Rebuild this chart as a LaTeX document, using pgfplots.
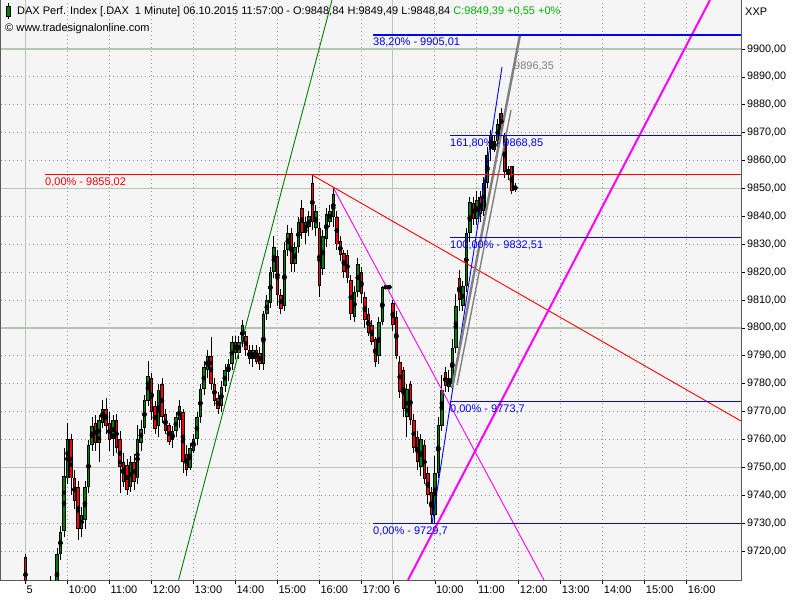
\documentclass[border=0pt]{standalone}
\usepackage{fontspec}
\setmainfont{Liberation Sans}
\usepackage{pgfplots}
\usepackage{pgfplotstable}
\pgfplotsset{compat=1.18}
\usetikzlibrary{backgrounds}
\definecolor{plotbg}{RGB}{245,245,245}
\definecolor{gridsolid}{RGB}{180,198,180}
\definecolor{griddot}{RGB}{150,150,150}
\definecolor{cgreen}{RGB}{0,128,0}
\definecolor{cred}{RGB}{255,0,0}
\definecolor{fibblue}{RGB}{0,0,255}
\definecolor{cmag}{RGB}{255,0,255}
\definecolor{titlegreen}{RGB}{0,180,0}
\definecolor{trendgrey}{RGB}{128,128,128}
\newcommand{\lab}{\fontsize{11}{13}\selectfont}
\newcommand{\tlab}{\fontsize{10.8}{13}\selectfont}

% minutes of trading time since 05.10.2015 09:00 (06.10. 09:00 = 525)
\pgfplotstableread{
m o h l c
0 9718 9719 9700 9705
5 9705 9708 9699 9702
10 9702 9706 9698 9704
15 9704 9707 9700 9701
20 9701 9705 9698 9703
25 9703 9706 9700 9702
30 9702 9707 9700 9705
35 9705 9711 9703 9706
40 9706 9708 9702 9704
45 9704 9721 9702 9719
50 9719 9729 9717 9727
55 9727 9757 9725 9747
60 9746 9766 9744 9760
65 9760 9762 9740 9746
70 9746 9749 9735 9738
75 9743 9745 9724 9728
80 9728 9736 9725 9733
85 9731 9745 9728 9743
90 9743 9760 9741 9758
95 9758 9768 9756 9765
100 9766 9769 9756 9759
105 9759 9769 9752 9767
110 9766 9774 9764 9771
115 9771 9775 9762 9765
120 9766 9770 9756 9760
125 9760 9769 9754 9767
130 9767 9769 9755 9757
135 9760 9763 9741 9750
140 9752 9755 9743 9745
145 9751 9753 9740 9742
150 9743 9754 9741 9752
155 9752 9755 9742 9745
160 9746 9765 9744 9760
165 9759 9767 9756 9764
170 9764 9776 9762 9774
175 9774 9788 9772 9783
180 9782 9784 9767 9770
185 9772 9774 9762 9764
190 9765 9780 9761 9778
195 9780 9782 9766 9768
200 9769 9771 9762 9763
205 9765 9766 9758 9759
210 9760 9765 9757 9763
215 9763 9770 9761 9768
220 9767 9774 9764 9772
225 9770 9771 9748 9752
230 9755 9758 9747 9749
235 9750 9759 9749 9757
240 9756 9762 9755 9760
245 9760 9770 9758 9768
250 9768 9780 9766 9778
255 9778 9788 9776 9786
260 9785 9792 9782 9790
265 9790 9797 9778 9780
270 9780 9782 9772 9774
275 9775 9777 9769 9771
280 9772 9781 9770 9779
285 9779 9787 9777 9785
290 9784 9789 9781 9787
295 9787 9797 9785 9795
300 9795 9797 9789 9791
305 9791 9797 9789 9795
310 9795 9803 9793 9801
315 9797 9799 9790 9792
320 9792 9794 9787 9789
325 9789 9794 9786 9792
330 9792 9794 9787 9788
335 9791 9793 9785 9787
340 9787 9806 9785 9805
345 9805 9812 9803 9810
350 9809 9822 9807 9820
355 9820 9833 9818 9829
360 9826 9828 9808 9812
365 9812 9814 9805 9807
370 9808 9831 9806 9828
375 9828 9837 9826 9834
380 9834 9836 9820 9823
385 9823 9831 9820 9829
390 9829 9840 9827 9838
395 9843 9846 9832 9834
400 9834 9840 9830 9838
405 9836 9842 9833 9840
410 9852 9855 9835 9838
415 9836 9844 9833 9842
420 9836 9838 9811 9815
425 9821 9835 9819 9833
430 9832 9843 9829 9841
435 9838 9844 9836 9842
440 9840 9850 9836 9848
445 9840 9842 9828 9830
450 9831 9833 9824 9826
455 9827 9828 9818 9820
460 9826 9828 9816 9818
465 9817 9819 9803 9805
470 9804 9815 9802 9813
475 9813 9825 9811 9823
480 9820 9822 9809 9812
485 9811 9813 9800 9803
490 9805 9807 9797 9798
495 9801 9803 9794 9795
500 9796 9797 9786 9788
505 9790 9804 9787 9802
510 9802 9815 9801 9814.7
515 9814.7 9814.7 9814.7 9814.7
520 9814.7 9814.7 9814.7 9814.7
525 9809 9810 9799 9801
530 9804 9806 9789 9790
535 9788 9790 9775 9777
540 9785 9786 9768 9771
545 9768 9780 9761 9778
550 9780 9781 9765 9767
555 9767 9769 9755 9757
560 9761 9763 9749 9752
565 9750 9762 9747 9760
570 9758 9760 9744 9746
575 9748 9750 9737 9740
580 9741 9743 9729.7 9733
585 9733 9754 9730 9748
590 9748 9768 9746 9765
595 9765 9783 9763 9778
600 9784 9786 9777 9779
605 9779 9785 9777 9782
610 9780 9796 9778 9793
615 9793 9812 9791 9808
620 9818 9821 9806 9810
625 9808 9817 9806 9815
630 9815 9836 9813 9834
635 9834 9847 9831 9845
640 9845 9847 9837 9839
645 9839 9849 9837 9846
650 9847 9849 9838 9841
655 9842 9854 9840 9852
660 9852 9865 9850 9862
665 9869 9871 9860 9864
670 9864 9869 9863 9867
675 9867 9875 9865 9873
680 9877 9879 9869 9871
685 9869 9870 9854 9856
690 9855 9858 9853 9857
695 9858 9858 9848 9849
700 9851 9852 9848.84 9849.39
}\candles

\begin{document}
\begin{tikzpicture}
\begin{axis}[
  name=ax,
  scale only axis, width=740pt, height=580pt,
  xmin=-35, xmax=1022.6, ymin=9709.6, ymax=9917.56,
  axis background/.style={fill=plotbg},
  axis line style={draw=gray!70!black, line width=1pt},
  xtick={0,60,120,180,240,300,360,420,480,525,585,645,705,765,825,885,945},
  xticklabels={5,10:00,11:00,12:00,13:00,14:00,15:00,16:00,17:00,6,10:00,11:00,12:00,13:00,14:00,15:00,16:00},
  ytick={9720,9730,...,9900},
  scaled y ticks=false,
  xtick pos=left, ytick pos=right, yticklabel pos=right,
  tick align=outside, major tick length=4pt,
  tick style={black, line width=0.6pt},
  grid=major,
  major grid style={griddot, line width=0.8pt, dash pattern=on 1pt off 3pt},
  extra x ticks={0,525}, extra x tick labels={},
  extra x tick style={grid=major, major grid style={gridsolid, line width=1.3pt, solid}, major tick length=0pt},
  extra y ticks={9750,9800,9850,9900}, extra y tick labels={},
  extra y tick style={grid=major, major grid style={gridsolid, line width=1.3pt, solid}, major tick length=0pt},
  tick label style={font=\tlab, text=black},
  yticklabel style={anchor=west, inner sep=1pt, xshift=1pt,
    /pgf/number format/.cd, fixed, fixed zerofill, precision=2, use comma, 1000 sep={}, assume math mode=true},
  xticklabel style={anchor=north west, inner sep=1pt, xshift=0pt, yshift=-1pt, font=\lab},
]
% wicks
\addplot[only marks, mark=none, forget plot,
  error bars/.cd, y dir=both, y explicit, error mark=none,
  error bar style={draw=black, line width=0.8pt}]
  table[x=m, y expr={(\thisrow{h}+\thisrow{l})/2}, y error expr={(\thisrow{h}-\thisrow{l})/2}] {\candles};
% bodies (outline)
\addplot[only marks, mark=none, forget plot,
  error bars/.cd, y dir=both, y explicit, error mark=none,
  error bar style={draw=black, line width=3.6pt}]
  table[x=m, y expr={(\thisrow{o}+\thisrow{c})/2}, y error expr={max(abs(\thisrow{c}-\thisrow{o})/2,0.25)}] {\candles};
% rising bodies
\addplot[only marks, mark=none, forget plot,
  x filter/.expression={\thisrow{c}>\thisrow{o} ? x : nan},
  error bars/.cd, y dir=both, y explicit, error mark=none,
  error bar style={draw=cgreen, line width=1.4pt}]
  table[x=m, y expr={(\thisrow{o}+\thisrow{c})/2}, y error expr={max(abs(\thisrow{c}-\thisrow{o})/2-0.35,0)}] {\candles};
% falling bodies
\addplot[only marks, mark=none, forget plot,
  x filter/.expression={\thisrow{c}<\thisrow{o} ? x : nan},
  error bars/.cd, y dir=both, y explicit, error mark=none,
  error bar style={draw=cred, line width=1.4pt}]
  table[x=m, y expr={(\thisrow{o}+\thisrow{c})/2}, y error expr={max(abs(\thisrow{c}-\thisrow{o})/2-0.35,0)}] {\candles};

% trend lines
\addplot[cgreen, line width=0.9pt] coordinates {(218.8,9709.6) (438.1,9917.56)};
\addplot[cred, line width=0.9pt] coordinates {(409.0,9854.9) (1022.6,9766.6)};
\addplot[cmag, line width=0.9pt] coordinates {(440.9,9849.8) (741.0,9709.6)};
\addplot[cmag, line width=2pt] coordinates {(546.7,9709.6) (978.3,9917.56)};
\addplot[fibblue, line width=0.9pt] coordinates {(581.0,9729.7) (681.0,9893.5)};
\addplot[trendgrey, line width=2.4pt] coordinates {(609.6,9778.4) (706.7,9905.0)};
\addplot[trendgrey, line width=1.4pt] coordinates {(616.7,9779.5) (693.9,9878.1)};

% retracement levels
\addplot[cred, line width=1.1pt] coordinates {(27.9,9855.02) (1022.6,9855.02)};
\addplot[fibblue, line width=1.1pt] coordinates {(496.6,9905.01) (1022.6,9905.01)};
\addplot[fibblue, line width=1.1pt] coordinates {(606.7,9868.85) (1022.6,9868.85)};
\addplot[fibblue, line width=1.1pt] coordinates {(606.7,9832.51) (1022.6,9832.51)};
\addplot[fibblue, line width=1.1pt] coordinates {(606.7,9773.7) (1022.6,9773.7)};
\addplot[fibblue, line width=1.1pt] coordinates {(496.6,9729.7) (1022.6,9729.7)};

\node[anchor=north west, inner sep=0pt, text=cred, font=\lab, yshift=-3pt] at (axis cs:27.9,9855.02) {0,00\% - 9855,02};
\node[anchor=north west, inner sep=0pt, text=fibblue, font=\lab, yshift=-3pt] at (axis cs:496.6,9905.01) {38,20\% - 9905,01};
\node[anchor=north west, inner sep=0pt, text=fibblue, font=\lab, yshift=-3pt] at (axis cs:606.7,9868.85) {161,80\% - 9868,85};
\node[anchor=north west, inner sep=0pt, text=fibblue, font=\lab, yshift=-3pt] at (axis cs:606.7,9832.51) {100,00\% - 9832,51};
\node[anchor=north west, inner sep=0pt, text=fibblue, font=\lab, yshift=-3pt] at (axis cs:606.7,9773.7) {0,00\% - 9773,7};
\node[anchor=north west, inner sep=0pt, text=fibblue, font=\lab, yshift=-3pt] at (axis cs:496.6,9729.7) {0,00\% - 9729,7};
\node[anchor=west, inner sep=0pt, text=trendgrey, font=\lab] at (axis cs:698.2,9893.9) {9896,35};
\end{axis}
% header
\draw[black, line width=0.6pt] ([xshift=7pt,yshift=-3pt]ax.north west) -- ([xshift=7pt,yshift=-19pt]ax.north west);
\filldraw[fill=cgreen, draw=black, line width=0.8pt] ([xshift=5pt,yshift=-6pt]ax.north west) rectangle ([xshift=9pt,yshift=-16pt]ax.north west);
\node[anchor=west, inner sep=0pt, font=\lab] at ([xshift=16pt,yshift=-11.5pt]ax.north west) {DAX Perf. Index [.DAX\ \ 1 Minute] 06.10.2015 11:57:00 - O:9848,84 H:9849,49 L:9848,84 \textcolor{titlegreen}{C:9849,39 +0,55 +0\%}};
\node[anchor=west, inner sep=0pt, font=\lab] at ([xshift=4pt,yshift=-28.5pt]ax.north west) {\textcopyright\ www.tradesignalonline.com};
\node[anchor=west, inner sep=0pt, font=\lab] at ([xshift=4pt,yshift=-12pt]ax.north east) {XXP};
\pgfresetboundingbox
\path[use as bounding box] ([xshift=-1pt,yshift=-20pt]ax.south west) rectangle ([xshift=59pt]ax.north east);
\begin{scope}[on background layer]
\fill[white] ([xshift=-1pt,yshift=-20pt]ax.south west) rectangle ([xshift=59pt]ax.north east);
\end{scope}
\end{tikzpicture}
\end{document}
